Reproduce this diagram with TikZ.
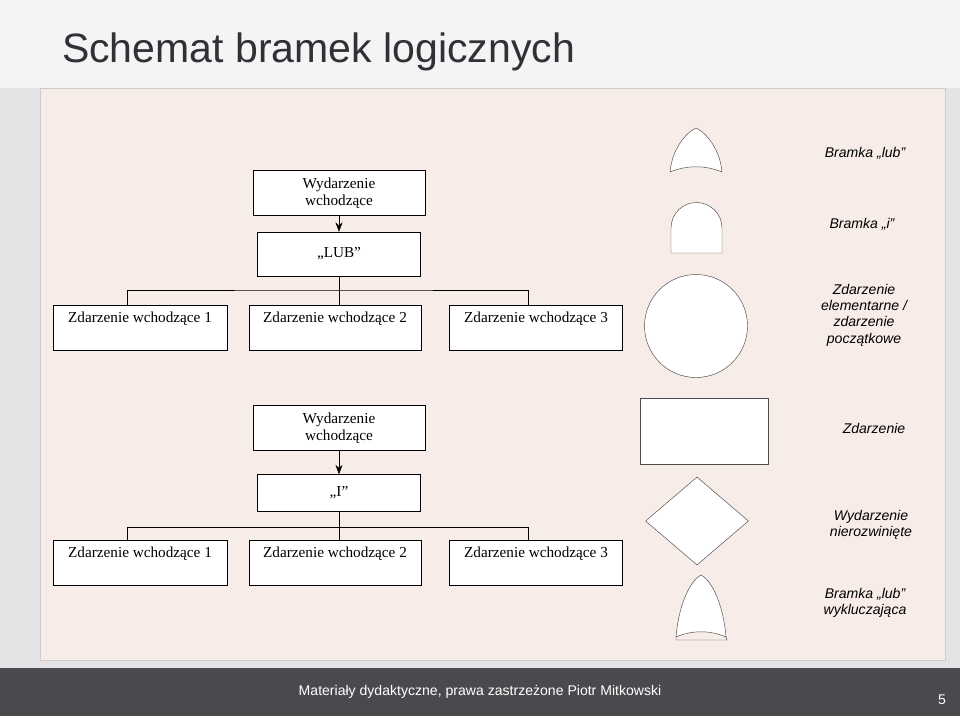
\documentclass[tikz,border=0pt]{standalone}
\usepackage{fontspec}
\setmainfont{Liberation Serif}
\setsansfont{Liberation Sans}
\usetikzlibrary{arrows.meta,shapes.geometric}
\definecolor{slidegray}{HTML}{E4E4E6}
\definecolor{panel}{HTML}{F8ECE8}
\definecolor{footgray}{HTML}{4A4A4E}
\definecolor{titlegray}{HTML}{303036}
\def\px{0.03cm}
\tikzset{
  box/.style={draw=black,fill=white,rectangle,font=\fontsize{13}{14.5}\selectfont},
  boxlbl/.style={anchor=north,yshift=-2pt,font=\fontsize{13}{14.5}\selectfont},
  symb/.style={draw=black!70,fill=white},
  legend/.style={font=\sffamily\itshape\fontsize{12}{14}\selectfont,align=center},
}
\begin{document}
\begin{tikzpicture}[x=0.03cm,y=-0.03cm]
% slide background
\fill[slidegray] (0,0) rectangle (960,716);
\fill[white!60!slidegray] (0,0) rectangle (960,88);
\fill[panel] (40,88) rectangle (945,660);
\draw[black!20] (40,88) rectangle (945,660);
\fill[footgray] (0,668) rectangle (960,716);
\node[anchor=west,font=\sffamily\fontsize{35}{38}\selectfont,text=titlegray] (title) at (58,52) {Schemat bramek logicznych};
\node[font=\sffamily\fontsize{12}{14}\selectfont,text=white] (foot) at (480,692) {Materiały dydaktyczne, prawa zastrzeżone Piotr Mitkowski};
\node[font=\sffamily\fontsize{12}{14}\selectfont,text=white] (page) at (942,700) {5};

% tree "LUB"
\node[box,align=center,minimum width=172*\px,minimum height=45*\px] (topA) at (339,193) {Wydarzenie\\wchodzące};
\node[box,minimum width=163*\px,minimum height=44*\px] (gateA) at (339,254) {„LUB”};
\node[box,minimum width=174*\px,minimum height=45*\px,label={[boxlbl]north:Zdarzenie wchodzące 1}] (a1) at (140,328) {};
\node[box,minimum width=172*\px,minimum height=45*\px,label={[boxlbl]north:Zdarzenie wchodzące 2}] (a2) at (335,328) {};
\node[box,minimum width=173*\px,minimum height=45*\px,label={[boxlbl]north:Zdarzenie wchodzące 3}] (a3) at (536,328) {};
\draw[-{Stealth[length=8pt,width=6pt]}] (topA) -- (gateA);
\coordinate (busA) at (339,290);
\draw (gateA) -- (busA);
\draw (a1.north -| 127,0) |- (busA) -| (a3.north -| 528,0);
\draw (busA) -- (busA |- a2.north);

% tree "I"
\node[box,align=center,minimum width=172*\px,minimum height=45*\px] (topB) at (339,428) {Wydarzenie\\wchodzące};
\node[box,minimum width=163*\px,minimum height=37*\px] (gateB) at (339,493) {„I”};
\node[box,minimum width=174*\px,minimum height=45*\px,label={[boxlbl]north:Zdarzenie wchodzące 1}] (b1) at (140,563) {};
\node[box,minimum width=172*\px,minimum height=45*\px,label={[boxlbl]north:Zdarzenie wchodzące 2}] (b2) at (335,563) {};
\node[box,minimum width=173*\px,minimum height=45*\px,label={[boxlbl]north:Zdarzenie wchodzące 3}] (b3) at (536,563) {};
\draw[-{Stealth[length=8pt,width=6pt]}] (topB) -- (gateB);
\coordinate (busB) at (339,527);
\draw (gateB) -- (busB);
\draw (b1.north -| 127,0) |- (busB) -| (b3.north -| 528,0);
\draw (busB) -- (busB |- b2.north);

% legend symbols
\draw[symb] (670,172) .. controls (672,150) and (685,133) .. (696,128)
  .. controls (707,133) and (720,150) .. (722,172)
  .. controls (705,165) and (687,165) .. cycle;
\draw[symb] (671,253) -- (671,228) arc[start angle=180,end angle=360,radius=25.5] -- (722,253) -- cycle;
\draw[symb] (696,326) circle[radius=51.5];
\draw[symb] (640,398) rectangle (768,464);
\node[symb,diamond,minimum width=103*\px,minimum height=88*\px,inner sep=0pt] (undev) at (697,521) {};
\draw[symb] (676,637) .. controls (678,610) and (688,582) .. (701,575)
  .. controls (714,582) and (724,610) .. (726,637)
  .. controls (710,630) and (692,630) .. cycle;
\draw[black!70] (676,637) -- (676,640) -- (727,640) -- (726,637);

% legend texts
\node[legend] (tOr) at (865,153) {Bramka „lub”};
\node[legend] (tAnd) at (862,224) {Bramka „i”};
\node[legend] (tElem) at (864,315) {Zdarzenie\\elementarne /\\zdarzenie\\początkowe};
\node[legend] (tEv) at (874,428) {Zdarzenie};
\node[legend] (tUndev) at (871,525) {Wydarzenie\\nierozwinięte};
\node[legend] (tXor) at (865,603) {Bramka „lub”\\wykluczająca};
\useasboundingbox (0,0) rectangle (960,716);
\end{tikzpicture}
\end{document}
